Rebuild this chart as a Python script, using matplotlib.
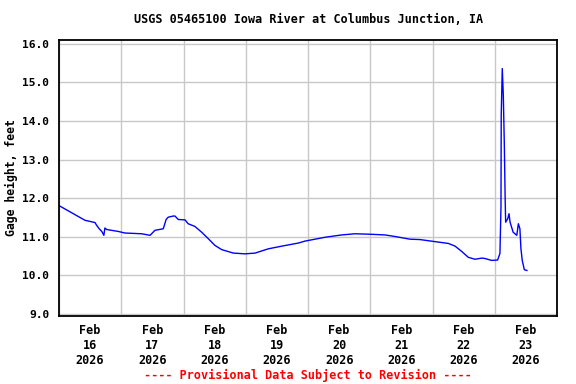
import pandas as pd
import matplotlib
matplotlib.use('Agg')
from matplotlib import pyplot as plt
import matplotlib.dates as mdates

# hours after 2026-02-16 00:00 and gage height (ft)
hours = [0, 10.0, 13.9, 14.5, 15.5, 16.5, 17.3, 17.7, 18.4, 22.9,
         25.4, 31.9, 35.1, 37.0, 40.2, 41.3, 42.1, 44.1, 44.7, 46.0,
         48.6, 49.8, 52.4, 55.0, 57.6, 60.1, 62.7, 67.2, 71.7, 75.6,
         80.7, 85.9, 92.3, 94.8, 102.6, 109.0, 114.1, 119.3, 125.7, 129.5,
         135.3, 139.2, 142.4, 150.1, 152.7, 155.3, 157.8, 160.4, 163.0, 164.2,
         166.8, 169.1, 170.0, 170.4, 170.5, 170.9, 171.3, 171.7, 172.0, 172.2,
         173.0, 173.5, 173.9, 174.5, 175.1, 176.5, 177.1, 177.7, 178.1, 178.6,
         179.4, 180.4]
gage = [11.81, 11.43, 11.37, 11.30, 11.21, 11.14, 11.04, 11.23, 11.19, 11.14,
        11.10, 11.08, 11.04, 11.17, 11.21, 11.45, 11.51, 11.54, 11.54, 11.45,
        11.44, 11.34, 11.27, 11.12, 10.95, 10.78, 10.67, 10.58, 10.56, 10.58,
        10.69, 10.76, 10.84, 10.89, 10.99, 11.05, 11.08, 11.07, 11.05, 11.01,
        10.94, 10.93, 10.90, 10.83, 10.76, 10.62, 10.47, 10.42, 10.45, 10.44,
        10.39, 10.40, 10.57, 11.77, 14.16, 15.36, 14.67, 13.36, 12.03, 11.38,
        11.47, 11.60, 11.38, 11.25, 11.12, 11.04, 11.34, 11.21, 10.69, 10.39,
        10.15, 10.13]

start = pd.Timestamp('2026-02-16 00:00')
times = [start + pd.Timedelta(hours=h) for h in hours]

title = 'USGS 05465100 Iowa River at Columbus Junction, IA'
ylabel = 'Gage height, feet'
note = '---- Provisional Data Subject to Revision ----'

fs = 8.5
plt.rcParams['font.family'] = 'DejaVu Sans Mono'
plt.rcParams['font.weight'] = 'bold'

fig = plt.figure(figsize=(5.76, 3.84), dpi=100)
ax = fig.add_axes([59 / 576, 68 / 384, 498 / 576, 276 / 384])

ax.plot(times, gage, color='#0000ff', lw=1.0)

ax.set_xlim(start, start + pd.Timedelta(days=8))
ax.set_ylim(8.95, 16.1)
ax.set_yticks([9, 10, 11, 12, 13, 14, 15, 16])
ax.yaxis.set_major_formatter(matplotlib.ticker.FormatStrFormatter('%.1f'))

ax.xaxis.set_major_locator(mdates.HourLocator(byhour=[12]))
ax.xaxis.set_major_formatter(mdates.DateFormatter('%b\n%d\n%Y'))
ax.xaxis.set_minor_locator(mdates.HourLocator(byhour=[0]))

ax.grid(False)
ax.grid(True, which='minor', axis='x', color='#c8c8c8', lw=1)
ax.grid(True, which='major', axis='y', color='#c8c8c8', lw=1)
ax.set_axisbelow(True)

ax.tick_params(axis='both', which='both', length=0, labelsize=fs)
ax.tick_params(axis='x', pad=6)
ax.tick_params(axis='y', pad=7, labelsize=8.1)
for lbl in ax.get_xticklabels():
    lbl.set_linespacing(1.2)
for s in ax.spines.values():
    s.set_linewidth(1.3)

ax.set_ylabel(ylabel, fontsize=8.3, fontweight='bold')
ax.yaxis.set_label_coords(-0.082, 0.5)
fig.text(0.535, 0.95, title, ha='center', va='center', fontsize=fs, fontweight='bold')
fig.text(0.535, 0.023, note, ha='center', va='center', fontsize=fs,
         fontweight='bold', color='#ff0000')

fig.savefig('out.png', dpi=100)
